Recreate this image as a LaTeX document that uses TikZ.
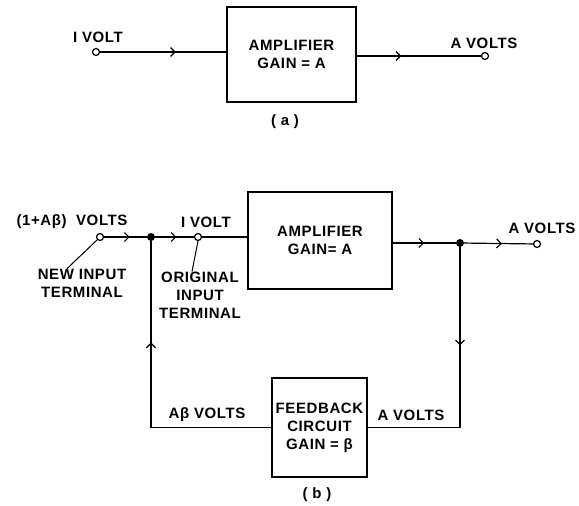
\documentclass[tikz,border=0pt]{standalone}
\usepackage{fontspec}
\setmainfont{Liberation Sans}[LetterSpace=4]
\usetikzlibrary{arrows.meta,positioning,calc,decorations.markings}

\tikzset{
  wire/.style={line width=1.2pt},
  flow/.style={postaction={decorate},
    decoration={markings, mark=at position #1 with {\arrow{Straight Barb[length=4.5pt,width=9pt]}}}},
  term/.style={circle, draw, line width=1.2pt, fill=white, inner sep=0pt, minimum size=7pt},
  dot/.style={circle, fill, inner sep=0pt, minimum size=8pt},
  blk/.style={draw, line width=1.2pt, align=center},
  lbl/.style={align=center, inner sep=0pt}
}

\begin{document}
\begin{tikzpicture}[x=1pt, y=-1pt, font=\bfseries\fontsize{15}{18}\selectfont]
\useasboundingbox (0,0) rectangle (579,506);
% ================= (a) amplifier alone =================
\node[term] (ina) at (96,52) {};
\node[lbl] (lblina) at (98,37) {I VOLT};
\node[blk, minimum width=129pt, minimum height=95pt] (ampa) at (291.5,54.5) {AMPLIFIER\\GAIN = A};
\node[term] (outa) at (485,56) {};
\node[lbl] (lblouta) at (484,43) {A VOLTS};
\node[lbl] (capa) at (285,122) {( a )};
\draw[wire,flow=0.6] (ina) -- (ampa.west |- ina);
\draw[wire,flow=0.36] (ampa.east |- outa) -- (outa);
% ================= (b) with feedback loop =================
\node[term] (newin) at (100,237) {};
\node[dot] (jin) at (151,237) {};
\node[term] (orig) at (198,237) {};
\node[lbl] (lblnew) at (72,222) {(1+Aβ)\ \ VOLTS};
\node[lbl] (lblorig) at (206,222) {I VOLT};
\node[lbl] (lblnewterm) at (82,283) {NEW INPUT\\TERMINAL};
\node[lbl] (lblorigterm) at (200,295) {ORIGINAL\\INPUT\\TERMINAL};
\node[blk, minimum width=144pt, minimum height=97pt] (ampb) at (320,240.5) {AMPLIFIER\\GAIN= A};
\node[dot] (jout) at (460,243) {};
\node[term] (outb) at (537,244) {};
\node[lbl] (lbloutb) at (542,228) {A VOLTS};
% feedback path
\node[blk, minimum width=95pt, minimum height=99pt, inner sep=1pt] (fb) at (319.5,427.5) {FEEDBACK\\CIRCUIT\\GAIN = β};
\node[lbl] (lblab) at (207,415) {Aβ VOLTS};
\node[lbl] (lblav) at (411,415) {A VOLTS};
\node[lbl] (capb) at (317,495) {( b )};
% forward wires
\draw[wire,flow=0.6] (newin) -- (jin);
\draw[wire,flow=0.55] (jin) -- (orig);
\draw[wire] (orig) -- (ampb.west |- orig);
\draw[wire,flow=0.5] (ampb.east |- jout) -- (jout);
\draw[wire,flow=0.55] (jout) -- (outb);
% loop wires
\draw[wire,flow=0.36] (jout) |- (fb.east);
\draw[wire,flow=0.67] (fb.west) -| (jin);
% leader lines to the terminals
\draw[line width=1pt] ([xshift=-15pt]lblnewterm.north) -- (newin.south west);
\draw[line width=1pt] ([xshift=-8pt]lblorigterm.north) -- (orig.south);
\end{tikzpicture}
\end{document}
